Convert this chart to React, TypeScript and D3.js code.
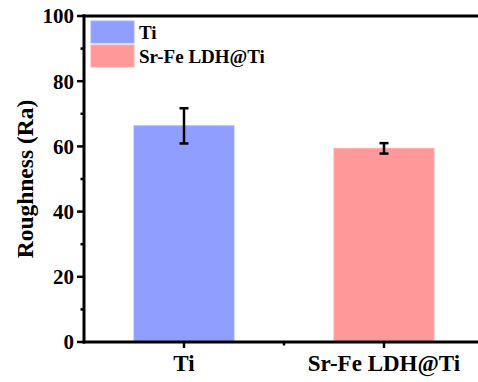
import React from "react";
import * as d3 from "d3";

const categories = ["Ti", "Sr-Fe LDH@Ti"];
const means = [66.3, 59.4];
const errors = [5.4, 1.6];
const barColors = ["#8f9eff", "#ff9999"];
const yTicks = [0, 20, 40, 60, 80, 100];
const yMinorTicks = [10, 30, 50, 70, 90];

const W = 478;
const H = 382;
const margin = { left: 84, top: 16, bottom: 40 };
const font = "'Liberation Serif', 'Times New Roman', serif";

export default function App() {
  const plotRight = 484;
  const x = d3.scaleLinear().domain([0.5, 2.5]).range([margin.left, plotRight]);
  const y = d3.scaleLinear().domain([0, 100]).range([H - margin.bottom, margin.top]);
  const barW = x(1.25) - x(0.75);
  const y0 = y(0);

  return (
    <svg
      width={W}
      height={H}
      style={{ position: "absolute", left: 0, top: 0, background: "#fff" }}
      fontFamily={font}
      fontWeight="bold"
    >
      {/* bars */}
      {categories.map((c, i) => (
        <rect
          key={c}
          x={x(i + 1) - barW / 2}
          y={y(means[i])}
          width={barW}
          height={y0 - y(means[i])}
          fill={barColors[i]}
          stroke={d3.color(barColors[i])!.brighter(0.3).toString()}
          strokeWidth={1}
        />
      ))}
      {/* error bars */}
      {categories.map((c, i) => {
        const cx = x(i + 1);
        const top = y(means[i] + errors[i]);
        const bot = y(means[i] - errors[i]);
        return (
          <g key={c} stroke="#000" strokeWidth={2.5}>
            <line x1={cx} x2={cx} y1={top} y2={bot} />
            <line x1={cx - 4.5} x2={cx + 4.5} y1={top} y2={top} />
            <line x1={cx - 4.5} x2={cx + 4.5} y1={bot} y2={bot} />
          </g>
        );
      })}
      {/* axes */}
      <g stroke="#000" strokeWidth={3}>
        <line x1={margin.left} x2={margin.left} y1={margin.top - 1.5} y2={y0 + 1.5} />
        <line x1={margin.left - 1.5} x2={plotRight} y1={y0} y2={y0} />
        <line x1={margin.left - 1.5} x2={plotRight} y1={margin.top} y2={margin.top} />
      </g>
      {yTicks.map((t) => (
        <g key={t}>
          <line x1={margin.left - 7} x2={margin.left} y1={y(t)} y2={y(t)} stroke="#000" strokeWidth={2.5} />
          <text x={margin.left - 10} y={y(t)} dy="0.35em" textAnchor="end" fontSize={21}>
            {t}
          </text>
        </g>
      ))}
      {yMinorTicks.map((t) => (
        <line key={t} x1={margin.left - 3.5} x2={margin.left} y1={y(t)} y2={y(t)} stroke="#000" strokeWidth={2.5} />
      ))}
      {categories.map((c, i) => (
        <g key={c}>
          <line x1={x(i + 1)} x2={x(i + 1)} y1={y0} y2={y0 + 6} stroke="#000" strokeWidth={2.5} />
          <text x={x(i + 1)} y={y0 + 29} textAnchor="middle" fontSize={23}>
            {c}
          </text>
        </g>
      ))}
      <line x1={x(1.5)} x2={x(1.5)} y1={y0} y2={y0 + 3.5} stroke="#000" strokeWidth={2.5} />
      {/* y title */}
      <text
        transform={`translate(33,${(margin.top + y0) / 2}) rotate(-90)`}
        textAnchor="middle"
        fontSize={23.5}
      >
        Roughness (Ra)
      </text>
      {/* legend */}
      {categories.map((c, i) => (
        <g key={c} transform={`translate(91,${21 + i * 24})`}>
          <rect width={43} height={22} fill={barColors[i]} stroke={d3.color(barColors[i])!.brighter(0.3).toString()} />
          <text x={48} y={11} dy="0.35em" fontSize={19}>
            {c}
          </text>
        </g>
      ))}
    </svg>
  );
}
